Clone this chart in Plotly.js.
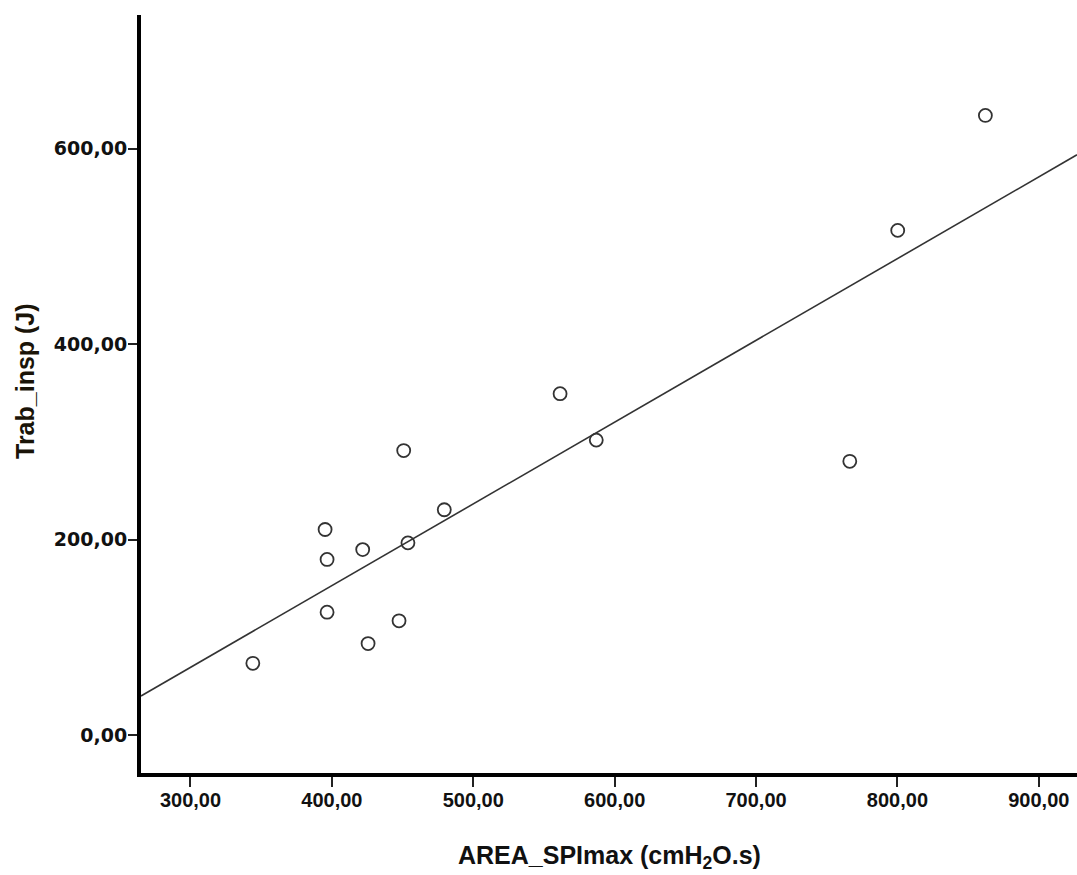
<!DOCTYPE html>
<html>
<head>
<meta charset="utf-8">
<script src="https://cdn.plot.ly/plotly-3.0.1.min.js"></script>
<style>html,body{margin:0;padding:0;background:#fff;}#chart{width:1077px;height:875px;}</style>
</head>
<body>
<div id="chart"></div>
<script>
// Data
const areaSPImax = [344.1, 395.2, 396.6, 396.6, 421.8, 425.6, 447.5, 450.8, 453.8, 479.5, 561.4, 587.0, 766.3, 800.2, 862.2];
const trabInsp   = [73.3, 210.3, 179.6, 125.6, 189.7, 93.5, 116.8, 291.1, 196.6, 230.5, 349.3, 301.8, 280.1, 516.5, 634.2];
const xTickVals = [300, 400, 500, 600, 700, 800, 900];
const yTickVals = [0, 200, 400, 600];
const xRange = [265, 927];
const yRange = [-39, 737];
const xTitle = 'AREA_SPImax (cmH<sub>2</sub>O.s)';
const yTitle = 'Trab_insp (J)';

// least-squares fit line from the data
const n = areaSPImax.length;
const mx = areaSPImax.reduce((a,b)=>a+b,0)/n;
const my = trabInsp.reduce((a,b)=>a+b,0)/n;
let sxy = 0, sxx = 0;
for (let i=0;i<n;i++){ sxy += (areaSPImax[i]-mx)*(trabInsp[i]-my); sxx += (areaSPImax[i]-mx)**2; }
const slope = sxy/sxx, intercept = my - slope*mx;
const fitX = xRange.slice();
const fitY = fitX.map(x => intercept + slope*x);

const traces = [
  {x: fitX, y: fitY, mode: 'lines', line: {color: '#333', width: 1.6}, hoverinfo: 'skip'},
  {x: areaSPImax, y: trabInsp, mode: 'markers',
   marker: {symbol: 'circle-open', size: 13, color: '#333', line: {width: 1.8, color: '#333'}}}
];

const titleFont = {family: 'Arial, "Liberation Sans", sans-serif', size: 25, color: '#111', weight: 'bold'};

const layout = {
  width: 1077, height: 875,
  margin: {l: 141, r: 0, t: 15, b: 102},
  paper_bgcolor: '#fff', plot_bgcolor: '#fff',
  showlegend: false,
  separators: ',.',
  xaxis: {
    range: xRange, tickvals: xTickVals, tickformat: '.2f',
    showgrid: false, zeroline: false,
    showline: true, linecolor: '#000', linewidth: 4,
    ticks: 'outside', ticklen: 10, tickwidth: 2, tickcolor: '#222',
    ticklabelstandoff: -4,
    tickfont: {family: '"Liberation Sans Narrow", "Arial Narrow", Arial, "Liberation Sans", sans-serif', size: 20, color: '#111', weight: 'bold'}
  },
  yaxis: {
    range: yRange, tickvals: yTickVals, tickformat: '.2f',
    showgrid: false, zeroline: false,
    showline: true, linecolor: '#000', linewidth: 4,
    ticks: 'outside', ticklen: 9, tickwidth: 2, tickcolor: '#222',
    ticklabelstandoff: -3,
    tickfont: {family: '"DejaVu Sans", Verdana, sans-serif', size: 19, color: '#111', weight: 'bold'}
  },
  annotations: [
    {text: xTitle, xref: 'paper', yref: 'paper', x: (609-141)/936, y: -(857-773)/758,
     xanchor: 'center', yanchor: 'middle', showarrow: false, font: titleFont},
    {text: yTitle, xref: 'paper', yref: 'paper', x: (25-141)/936, y: (773-381)/758,
     xanchor: 'center', yanchor: 'middle', showarrow: false, textangle: -90,
     font: Object.assign({}, titleFont, {color: '#1a1408'})}
  ]
};

Plotly.newPlot('chart', traces, layout, {displayModeBar: false, staticPlot: true});
</script>
</body>
</html>
